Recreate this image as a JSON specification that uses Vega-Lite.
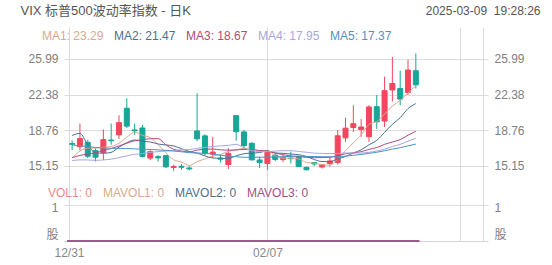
{
  "$schema": "https://vega.github.io/schema/vega-lite/v6.json",
  "width": 424,
  "height": 214,
  "autosize": "none",
  "padding": {"left": 64, "top": 27, "right": 64, "bottom": 24},
  "background": "white",
  "config": {"view": {"stroke": null}, "font": "Liberation Sans, Noto Sans CJK SC"},
  "datasets": {
    "k": [
      {"i":0,"d":"12/31","o":17.42,"h":17.75,"l":16.75,"c":17.35,"MA1":15.94,"MA2":18.24,"MA3":15.99,"MA4":15.69,"MA5":17.28,"VOL1":0,"MAVOL1":0,"MAVOL2":0,"MAVOL3":0},
      {"i":1,"d":"01/02","o":17.10,"h":19.45,"l":16.75,"c":17.93,"MA1":16.67,"MA2":18.45,"MA3":16.22,"MA4":15.77,"MA5":17.20,"VOL1":0,"MAVOL1":0,"MAVOL2":0,"MAVOL3":0},
      {"i":2,"d":"01/03","o":17.55,"h":17.80,"l":15.95,"c":16.13,"MA1":16.95,"MA2":17.30,"MA3":16.36,"MA4":15.76,"MA5":17.11,"VOL1":0,"MAVOL1":0,"MAVOL2":0,"MAVOL3":0},
      {"i":3,"d":"01/06","o":16.70,"h":16.95,"l":15.60,"c":16.04,"MA1":16.97,"MA2":16.49,"MA3":16.48,"MA4":15.72,"MA5":17.03,"VOL1":0,"MAVOL1":0,"MAVOL2":0,"MAVOL3":0},
      {"i":4,"d":"01/07","o":16.50,"h":18.85,"l":15.75,"c":17.82,"MA1":17.05,"MA2":16.44,"MA3":16.74,"MA4":15.76,"MA5":16.98,"VOL1":0,"MAVOL1":0,"MAVOL2":0,"MAVOL3":0},
      {"i":5,"d":"01/08","o":17.78,"h":19.45,"l":17.30,"c":17.70,"MA1":17.12,"MA2":16.53,"MA3":16.91,"MA4":15.84,"MA5":16.94,"VOL1":0,"MAVOL1":0,"MAVOL2":0,"MAVOL3":0},
      {"i":6,"d":"01/10","o":18.30,"h":20.30,"l":17.90,"c":19.54,"MA1":17.45,"MA2":17.06,"MA3":17.18,"MA4":16.00,"MA5":16.93,"VOL1":0,"MAVOL1":0,"MAVOL2":0,"MAVOL3":0},
      {"i":7,"d":"01/13","o":21.00,"h":22.00,"l":19.00,"c":19.19,"MA1":18.06,"MA2":17.51,"MA3":17.46,"MA4":16.17,"MA5":16.91,"VOL1":0,"MAVOL1":0,"MAVOL2":0,"MAVOL3":0},
      {"i":8,"d":"01/14","o":18.80,"h":19.45,"l":18.30,"c":18.71,"MA1":18.59,"MA2":17.78,"MA3":17.70,"MA4":16.33,"MA5":16.89,"VOL1":0,"MAVOL1":0,"MAVOL2":0,"MAVOL3":0},
      {"i":9,"d":"01/15","o":19.00,"h":19.30,"l":16.00,"c":16.12,"MA1":18.25,"MA2":17.65,"MA3":17.81,"MA4":16.41,"MA5":16.84,"VOL1":0,"MAVOL1":0,"MAVOL2":0,"MAVOL3":0},
      {"i":10,"d":"01/16","o":15.95,"h":16.75,"l":15.75,"c":16.60,"MA1":18.03,"MA2":17.58,"MA3":17.91,"MA4":16.52,"MA5":16.82,"VOL1":0,"MAVOL1":0,"MAVOL2":0,"MAVOL3":0},
      {"i":11,"d":"01/17","o":16.10,"h":16.25,"l":15.60,"c":15.97,"MA1":17.32,"MA2":17.38,"MA3":17.92,"MA4":16.61,"MA5":16.78,"VOL1":0,"MAVOL1":0,"MAVOL2":0,"MAVOL3":0},
      {"i":12,"d":"01/21","o":16.20,"h":16.25,"l":14.95,"c":15.06,"MA1":16.49,"MA2":17.28,"MA3":17.29,"MA4":16.66,"MA5":16.73,"VOL1":0,"MAVOL1":0,"MAVOL2":0,"MAVOL3":0},
      {"i":13,"d":"01/22","o":15.00,"h":15.30,"l":14.65,"c":15.10,"MA1":15.77,"MA2":17.18,"MA3":16.84,"MA4":16.72,"MA5":16.66,"VOL1":0,"MAVOL1":0,"MAVOL2":0,"MAVOL3":0},
      {"i":14,"d":"01/23","o":15.12,"h":15.35,"l":14.75,"c":15.02,"MA1":15.55,"MA2":16.90,"MA3":16.67,"MA4":16.79,"MA5":16.59,"VOL1":0,"MAVOL1":0,"MAVOL2":0,"MAVOL3":0},
      {"i":15,"d":"01/24","o":14.95,"h":15.10,"l":14.70,"c":14.85,"MA1":15.20,"MA2":16.62,"MA3":16.57,"MA4":16.81,"MA5":16.50,"VOL1":0,"MAVOL1":0,"MAVOL2":0,"MAVOL3":0},
      {"i":16,"d":"01/27","o":18.70,"h":22.51,"l":17.65,"c":17.90,"MA1":15.59,"MA2":16.45,"MA3":16.76,"MA4":16.94,"MA5":16.47,"VOL1":0,"MAVOL1":0,"MAVOL2":0,"MAVOL3":0},
      {"i":17,"d":"01/28","o":18.20,"h":18.35,"l":16.20,"c":16.41,"MA1":15.86,"MA2":16.17,"MA3":16.84,"MA4":17.03,"MA5":16.42,"VOL1":0,"MAVOL1":0,"MAVOL2":0,"MAVOL3":0},
      {"i":18,"d":"01/29","o":16.35,"h":18.10,"l":15.95,"c":16.56,"MA1":16.15,"MA2":15.96,"MA3":16.87,"MA4":17.12,"MA5":16.36,"VOL1":0,"MAVOL1":0,"MAVOL2":0,"MAVOL3":0},
      {"i":19,"d":"01/30","o":15.95,"h":16.30,"l":15.50,"c":15.84,"MA1":16.31,"MA2":15.93,"MA3":16.79,"MA4":17.19,"MA5":16.24,"VOL1":0,"MAVOL1":0,"MAVOL2":0,"MAVOL3":0},
      {"i":20,"d":"01/31","o":15.30,"h":16.95,"l":14.85,"c":16.43,"MA1":16.63,"MA2":15.91,"MA3":16.75,"MA4":17.24,"MA5":16.14,"VOL1":0,"MAVOL1":0,"MAVOL2":0,"MAVOL3":0},
      {"i":21,"d":"02/03","o":20.25,"h":20.30,"l":17.70,"c":18.62,"MA1":16.77,"MA2":16.18,"MA3":16.78,"MA4":17.34,"MA5":16.09,"VOL1":0,"MAVOL1":0,"MAVOL2":0,"MAVOL3":0},
      {"i":22,"d":"02/04","o":18.60,"h":18.80,"l":16.90,"c":17.21,"MA1":16.93,"MA2":16.39,"MA3":16.83,"MA4":16.99,"MA5":16.03,"VOL1":0,"MAVOL1":0,"MAVOL2":0,"MAVOL3":0},
      {"i":23,"d":"02/05","o":17.45,"h":17.55,"l":15.70,"c":15.77,"MA1":16.77,"MA2":16.46,"MA3":16.82,"MA4":16.71,"MA5":16.03,"VOL1":0,"MAVOL1":0,"MAVOL2":0,"MAVOL3":0},
      {"i":24,"d":"02/06","o":15.76,"h":16.10,"l":14.95,"c":15.50,"MA1":16.71,"MA2":16.51,"MA3":16.71,"MA4":16.62,"MA5":16.03,"VOL1":0,"MAVOL1":0,"MAVOL2":0,"MAVOL3":0},
      {"i":25,"d":"02/07","o":15.40,"h":16.60,"l":14.75,"c":16.54,"MA1":16.73,"MA2":16.68,"MA3":16.65,"MA4":16.61,"MA5":16.06,"VOL1":0,"MAVOL1":0,"MAVOL2":0,"MAVOL3":0},
      {"i":26,"d":"02/10","o":16.25,"h":16.40,"l":15.65,"c":15.81,"MA1":16.17,"MA2":16.47,"MA3":16.46,"MA4":16.66,"MA5":16.07,"VOL1":0,"MAVOL1":0,"MAVOL2":0,"MAVOL3":0},
      {"i":27,"d":"02/11","o":15.80,"h":16.30,"l":15.55,"c":16.02,"MA1":15.93,"MA2":16.43,"MA3":16.30,"MA4":16.70,"MA5":16.09,"VOL1":0,"MAVOL1":0,"MAVOL2":0,"MAVOL3":0},
      {"i":28,"d":"02/12","o":15.95,"h":16.60,"l":15.40,"c":15.89,"MA1":15.95,"MA2":16.36,"MA3":16.16,"MA4":16.70,"MA5":16.12,"VOL1":0,"MAVOL1":0,"MAVOL2":0,"MAVOL3":0},
      {"i":29,"d":"02/13","o":16.10,"h":16.20,"l":15.05,"c":15.10,"MA1":15.87,"MA2":16.29,"MA3":16.11,"MA4":16.62,"MA5":16.14,"VOL1":0,"MAVOL1":0,"MAVOL2":0,"MAVOL3":0},
      {"i":30,"d":"02/14","o":15.00,"h":15.10,"l":14.70,"c":14.77,"MA1":15.52,"MA2":16.12,"MA3":16.02,"MA4":16.54,"MA5":16.11,"VOL1":0,"MAVOL1":0,"MAVOL2":0,"MAVOL3":0},
      {"i":31,"d":"02/18","o":15.50,"h":15.55,"l":15.15,"c":15.35,"MA1":15.43,"MA2":15.80,"MA3":15.99,"MA4":16.45,"MA5":16.11,"VOL1":0,"MAVOL1":0,"MAVOL2":0,"MAVOL3":0},
      {"i":32,"d":"02/19","o":15.05,"h":15.30,"l":14.90,"c":15.27,"MA1":15.28,"MA2":15.60,"MA3":16.00,"MA4":16.42,"MA5":16.09,"VOL1":0,"MAVOL1":0,"MAVOL2":0,"MAVOL3":0},
      {"i":33,"d":"02/20","o":15.40,"h":16.10,"l":15.10,"c":15.66,"MA1":15.23,"MA2":15.59,"MA3":16.03,"MA4":16.41,"MA5":16.07,"VOL1":0,"MAVOL1":0,"MAVOL2":0,"MAVOL3":0},
      {"i":34,"d":"02/21","o":15.50,"h":18.80,"l":15.30,"c":18.21,"MA1":15.85,"MA2":15.86,"MA3":16.19,"MA4":16.42,"MA5":16.09,"VOL1":0,"MAVOL1":0,"MAVOL2":0,"MAVOL3":0},
      {"i":35,"d":"02/24","o":18.00,"h":20.04,"l":17.60,"c":18.98,"MA1":16.69,"MA2":16.11,"MA3":16.39,"MA4":16.47,"MA5":16.15,"VOL1":0,"MAVOL1":0,"MAVOL2":0,"MAVOL3":0},
      {"i":36,"d":"02/25","o":19.05,"h":21.30,"l":18.60,"c":19.43,"MA1":17.51,"MA2":16.47,"MA3":16.47,"MA4":16.46,"MA5":16.23,"VOL1":0,"MAVOL1":0,"MAVOL2":0,"MAVOL3":0},
      {"i":37,"d":"02/26","o":18.85,"h":19.90,"l":18.10,"c":19.10,"MA1":18.28,"MA2":16.78,"MA3":16.60,"MA4":16.46,"MA5":16.32,"VOL1":0,"MAVOL1":0,"MAVOL2":0,"MAVOL3":0},
      {"i":38,"d":"02/27","o":18.12,"h":21.30,"l":17.60,"c":21.13,"MA1":19.37,"MA2":17.30,"MA3":16.83,"MA4":16.54,"MA5":16.43,"VOL1":0,"MAVOL1":0,"MAVOL2":0,"MAVOL3":0},
      {"i":39,"d":"02/28","o":21.16,"h":22.34,"l":18.90,"c":19.63,"MA1":19.65,"MA2":17.75,"MA3":17.02,"MA4":16.66,"MA5":16.54,"VOL1":0,"MAVOL1":0,"MAVOL2":0,"MAVOL3":0},
      {"i":40,"d":"03/03","o":19.71,"h":24.20,"l":19.10,"c":22.78,"MA1":20.41,"MA2":18.55,"MA3":17.34,"MA4":16.86,"MA5":16.69,"VOL1":0,"MAVOL1":0,"MAVOL2":0,"MAVOL3":0},
      {"i":41,"d":"03/04","o":22.85,"h":26.20,"l":21.70,"c":23.51,"MA1":21.23,"MA2":19.37,"MA3":17.58,"MA4":17.12,"MA5":16.86,"VOL1":0,"MAVOL1":0,"MAVOL2":0,"MAVOL3":0},
      {"i":42,"d":"03/05","o":23.00,"h":24.80,"l":21.30,"c":21.93,"MA1":21.80,"MA2":20.04,"MA3":17.82,"MA4":17.34,"MA5":17.00,"VOL1":0,"MAVOL1":0,"MAVOL2":0,"MAVOL3":0},
      {"i":43,"d":"03/06","o":22.60,"h":25.90,"l":22.35,"c":24.87,"MA1":22.54,"MA2":20.96,"MA3":18.27,"MA4":17.67,"MA5":17.19,"VOL1":0,"MAVOL1":0,"MAVOL2":0,"MAVOL3":0},
      {"i":44,"d":"03/07","o":24.80,"h":26.56,"l":23.00,"c":23.37,"MA1":23.29,"MA2":21.47,"MA3":18.67,"MA4":17.95,"MA5":17.37,"VOL1":0,"MAVOL1":0,"MAVOL2":0,"MAVOL3":0}
    ]
  },
  "data": {"name": "k"},
  "resolve": {"scale": {"x": "independent", "y": "independent"}},
  "layer": [
    {
      "encoding": {
        "x": {"field": "i", "type": "quantitative", "scale": {"domain": [-0.4, 52.6], "nice": false, "zero": false},
          "axis": {"values": [-0.4, 25, 49.6, 52.6], "labelExpr": "datum.value == 25 ? '02/07' : (datum.value < 0 ? '12/31' : '')", "labelFlush": true, "labelOverlap": false, "grid": true, "gridColor": "#dcdcdc", "ticks": false, "domain": true, "domainColor": "#d4d4d4", "labelColor": "#888888", "labelFontSize": 12, "labelPadding": 6, "title": null}}
      },
      "layer": [
        {
          "mark": {"type": "rule", "strokeWidth": 1},
          "encoding": {
            "y": {"field": "l", "type": "quantitative", "scale": {"domain": [7.55, 29.23], "nice": false, "zero": false},
              "axis": {"orient": "left", "values": [15.15, 18.76, 22.38, 25.99], "format": ".2f", "grid": true, "gridColor": "#dcdcdc", "ticks": false, "domain": false, "labelColor": "#808080", "labelFontSize": 12, "labelPadding": 6,
                "title": "VIX 标普500波动率指数 - 日K", "titleAngle": 0, "titleAnchor": null, "titleX": -44, "titleY": -17, "titleAlign": "left", "titleBaseline": "middle", "titleFontSize": 13, "titleFontWeight": "normal", "titleColor": "#555555"}},
            "y2": {"field": "h"},
            "color": {"condition": {"test": "datum.c >= datum.o", "value": "#f4465f"}, "value": "#17a697"}
          }
        },
        {
          "mark": {"type": "bar", "width": 5, "strokeWidth": 1},
          "encoding": {
            "y": {"field": "o", "type": "quantitative"},
            "y2": {"field": "c"},
            "color": {"condition": {"test": "datum.c >= datum.o", "value": "#f4465f"}, "value": "#17a697"},
            "stroke": {"condition": {"test": "datum.c >= datum.o", "value": "#f4465f"}, "value": "#17a697"}
          }
        },
        {
          "transform": [{"fold": ["MA1", "MA2", "MA3", "MA4", "MA5"], "as": ["ma", "v"]}],
          "mark": {"type": "line", "strokeWidth": 1, "interpolate": "monotone"},
          "encoding": {
            "y": {"field": "v", "type": "quantitative"},
            "stroke": {"field": "ma", "type": "nominal",
              "scale": {"domain": ["MA1", "MA2", "MA3", "MA4", "MA5"], "range": ["#d9a98c", "#4a7190", "#b04a80", "#a9a6e2", "#4b94c6"]},
              "legend": {"orient": "none", "legendX": -21, "legendY": 3, "direction": "horizontal", "title": null, "symbolSize": 0, "symbolOpacity": 0, "symbolStrokeWidth": 0, "labelOffset": -13, "columnPadding": 10, "labelFontSize": 12, "labelLimit": 0,
                "labelExpr": "datum.value + ': ' + (datum.value == 'MA1' ? '23.29' : datum.value == 'MA2' ? '21.47' : datum.value == 'MA3' ? '18.67' : datum.value == 'MA4' ? '17.95' : '17.37')",
                "labelColor": {"expr": "datum.value == 'MA1' ? '#d9a98c' : datum.value == 'MA2' ? '#4a7190' : datum.value == 'MA3' ? '#b04a80' : datum.value == 'MA4' ? '#a9a6e2' : '#4b94c6'"}}
            }
          }
        }
      ]
    },
    {
      "mark": {"type": "point", "opacity": 0, "size": 0},
      "encoding": {
        "x": {"field": "i", "type": "quantitative", "scale": {"domain": [-0.4, 52.6], "nice": false, "zero": false},
          "axis": {"orient": "top", "title": "2025-03-09\u00a0\u00a019:28:26", "labels": false, "ticks": false, "domain": false, "grid": false, "titleX": 476, "titleY": -17, "titleAlign": "right", "titleAnchor": null, "titleBaseline": "middle", "titleFontSize": 12, "titleFontWeight": "normal", "titleColor": "#555555"}},
        "y": {"field": "c", "type": "quantitative", "scale": {"domain": [7.55, 29.23], "nice": false, "zero": false},
          "axis": {"orient": "right", "values": [15.15, 18.76, 22.38, 25.99], "format": ".2f", "grid": false, "ticks": false, "domain": false, "labelColor": "#808080", "labelFontSize": 12, "labelPadding": 6, "title": null}}
      }
    },
    {
      "transform": [{"fold": ["VOL1", "MAVOL1", "MAVOL2", "MAVOL3"], "as": ["vs", "vv"]}],
      "mark": {"type": "line", "strokeWidth": 2},
      "encoding": {
        "x": {"field": "i", "type": "quantitative", "scale": {"domain": [-0.4, 52.6], "nice": false, "zero": false}, "axis": null},
        "y": {"field": "vv", "type": "quantitative", "scale": {"domain": [0, 5.944], "nice": false, "zero": false},
          "axis": {"orient": "left", "values": [0, 1], "labelExpr": "datum.value == 0 ? '股' : '1'", "grid": true, "gridColor": "#dcdcdc", "ticks": false, "domain": false, "labelColor": "#808080", "labelFontSize": 12, "labelPadding": 6, "title": null,
            "labelBaseline": {"condition": {"test": "datum.value == 0", "value": "bottom"}, "value": "middle"},
            "labelOffset": {"condition": {"test": "datum.value == 0", "value": 0}, "value": 3}}},
        "color": {"field": "vs", "type": "nominal",
          "scale": {"domain": ["VOL1", "MAVOL1", "MAVOL2", "MAVOL3"], "range": ["#ef8a8a", "#d9a98c", "#4a7190", "#9d5b8c"]},
          "legend": {"orient": "none", "legendX": -15, "legendY": 160, "direction": "horizontal", "title": null, "symbolSize": 0, "symbolOpacity": 0, "symbolStrokeWidth": 0, "labelOffset": -13, "columnPadding": 10, "labelFontSize": 12, "labelLimit": 0,
            "labelExpr": "datum.value + ': 0'",
            "labelColor": {"expr": "datum.value == 'VOL1' ? '#ef8a8a' : datum.value == 'MAVOL1' ? '#d9a98c' : datum.value == 'MAVOL2' ? '#4a7190' : '#a24f8a'"}}
        }
      }
    },
    {
      "mark": {"type": "point", "opacity": 0, "size": 0},
      "encoding": {
        "x": {"field": "i", "type": "quantitative", "scale": {"domain": [-0.4, 52.6], "nice": false, "zero": false}, "axis": null},
        "y": {"field": "VOL1", "type": "quantitative", "scale": {"domain": [0, 5.944], "nice": false, "zero": false},
          "axis": {"orient": "right", "values": [0, 1], "labelExpr": "datum.value == 0 ? '股' : '1'", "grid": false, "ticks": false, "domain": false, "labelColor": "#808080", "labelFontSize": 12, "labelPadding": 6, "title": null,
            "labelBaseline": {"condition": {"test": "datum.value == 0", "value": "bottom"}, "value": "middle"},
            "labelOffset": {"condition": {"test": "datum.value == 0", "value": 0}, "value": 3}}}
      }
    }
  ]
}
